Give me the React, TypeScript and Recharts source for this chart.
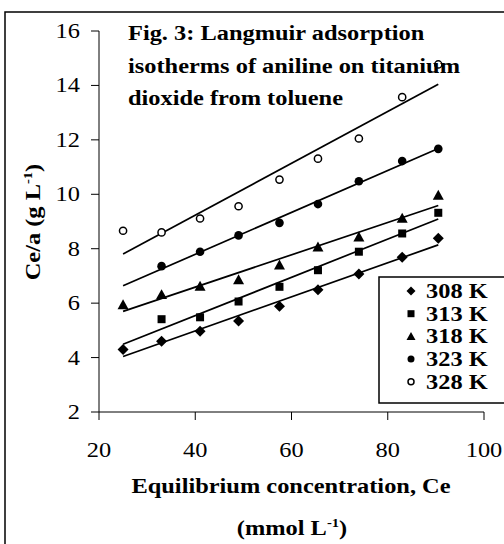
import React from "react";
import { ScatterChart, Scatter, XAxis, YAxis, ReferenceLine } from "recharts";

// equilibrium concentration Ce (mmol/L)
const ce = [25, 33, 41, 49, 57.5, 65.5, 74, 83, 90.5];
// Ce/a (g/L) for each temperature
const k308 = [4.3, 4.6, 4.97, 5.34, 5.89, 6.49, 7.07, 7.69, 8.38];
const k313 = [null, 5.41, 5.48, 6.06, 6.6, 7.21, 7.89, 8.56, 9.32];
const k318 = [5.94, 6.31, 6.62, 6.86, 7.4, 8.06, 8.43, 9.12, 9.96];
const k323 = [null, 7.36, 7.89, 8.49, 8.95, 9.64, 10.48, 11.22, 11.67];
const k328 = [8.66, 8.6, 9.11, 9.56, 10.54, 11.31, 12.05, 13.57, 14.77];

const seriesNames = ["308 K", "313 K", "318 K", "323 K", "328 K"];
const xTicks = [20, 40, 60, 80, 100];
const yTicks = [2, 4, 6, 8, 10, 12, 14, 16];
const titleLines = ["Fig. 3: Langmuir adsorption", "isotherms of aniline on titanium", "dioxide from toluene"];

const FONT = '"Liberation Serif", "Times New Roman", serif';
const WIDE = 1.22; // the original type is set noticeably wide
const X_LABEL_BASELINE = 457;

const toPoints = (vals: (number | null)[]) =>
  ce.map((x, i) => ({ x, y: vals[i] })).filter((p) => p.y != null) as { x: number; y: number }[];

// least squares line through the points, drawn over the full Ce range
const fit = (pts: { x: number; y: number }[]) => {
  const n = pts.length;
  const mx = pts.reduce((s, p) => s + p.x, 0) / n;
  const my = pts.reduce((s, p) => s + p.y, 0) / n;
  let sxy = 0;
  let sxx = 0;
  pts.forEach((p) => {
    sxy += (p.x - mx) * (p.y - my);
    sxx += (p.x - mx) * (p.x - mx);
  });
  const b = sxy / sxx;
  const x0 = Math.min(...ce);
  const x1 = Math.max(...ce);
  return [
    { x: x0, y: my + b * (x0 - mx) },
    { x: x1, y: my + b * (x1 - mx) },
  ];
};

const Diamond = ({ cx, cy, r = 5.5 }: any) => (
  <polygon points={`${cx},${cy - r} ${cx + r},${cy} ${cx},${cy + r} ${cx - r},${cy}`} fill="#000" />
);
const Square = ({ cx, cy, r = 4 }: any) => <rect x={cx - r} y={cy - r} width={r * 2} height={r * 2} fill="#000" />;
const Triangle = ({ cx, cy, r = 5.5 }: any) => (
  <polygon points={`${cx},${cy - r} ${cx + r},${cy + r * 0.8} ${cx - r},${cy + r * 0.8}`} fill="#000" />
);
const Dot = ({ cx, cy, r = 4.3 }: any) => <circle cx={cx} cy={cy} r={r} fill="#000" />;
const OpenDot = ({ cx, cy, r = 3.6 }: any) => (
  <circle cx={cx} cy={cy} r={r} fill="#fff" stroke="#000" strokeWidth={1.5} />
);

const series = [
  { name: seriesNames[0], pts: toPoints(k308), Shape: Diamond, lr: 4.5 },
  { name: seriesNames[1], pts: toPoints(k313), Shape: Square, lr: 3.5 },
  { name: seriesNames[2], pts: toPoints(k318), Shape: Triangle, lr: 4.5 },
  { name: seriesNames[3], pts: toPoints(k323), Shape: Dot, lr: 3.5 },
  { name: seriesNames[4], pts: toPoints(k328), Shape: OpenDot, lr: 3 },
];

// wide text: scaled along its own baseline
const WText = ({ x, y, rotate = 0, anchor = "start", bold = true, size = 20, children }: any) => (
  <text
    transform={`translate(${x},${y}) rotate(${rotate}) scale(${WIDE},1)`}
    textAnchor={anchor}
    fontFamily={FONT}
    fontWeight={bold ? 700 : 400}
    fontSize={size}
    fill="#000"
  >
    {children}
  </text>
);

const XTick = (props: any) => (
  <text
    x={props.x}
    y={X_LABEL_BASELINE}
    transform={`translate(${props.x},0) scale(${WIDE},1) translate(${-props.x},0)`}
    textAnchor="middle"
    fontFamily={FONT}
    fontSize={20}
    fill="#000"
  >
    {props.payload.value}
  </text>
);
const YTick = (props: any) => (
  <text
    x={props.x - 11}
    y={props.y + 7}
    transform={`translate(${props.x - 11},0) scale(${WIDE},1) translate(${11 - props.x},0)`}
    textAnchor="end"
    fontFamily={FONT}
    fontSize={20}
    fill="#000"
  >
    {props.payload.value}
  </text>
);

export default function App() {
  return (
    <div style={{ position: "absolute", left: 0, top: 0, width: 504, height: 544, overflow: "hidden", background: "#fff" }}>
      <ScatterChart width={504} height={544} margin={{ top: 31, right: 20, bottom: 0, left: 0 }}>
        <XAxis
          type="number"
          dataKey="x"
          domain={[20, 100]}
          ticks={xTicks}
          height={132}
          tickSize={8}
          tickMargin={0}
          stroke="#000"
          tick={<XTick />}
        />
        <YAxis
          type="number"
          dataKey="y"
          domain={[2, 16]}
          ticks={yTicks}
          width={99}
          tickSize={8}
          tickMargin={0}
          stroke="#000"
          tick={<YTick />}
        />
        {series.map((s) => {
          const [a, b] = fit(s.pts);
          return (
            <ReferenceLine key={"fit" + s.name} segment={[a, b]} stroke="#000" strokeWidth={1.7} ifOverflow="visible" />
          );
        })}
        {series.map((s) => (
          <Scatter
            key={s.name}
            name={s.name}
            data={s.pts}
            isAnimationActive={false}
            shape={(p: any) => <s.Shape cx={p.cx} cy={p.cy} />}
          />
        ))}
      </ScatterChart>

      <svg width={504} height={544} style={{ position: "absolute", left: 0, top: 0, pointerEvents: "none" }}>
        <rect x={5} y={12} width={520} height={560} fill="none" stroke="#000" strokeWidth={1.5} />

        {titleLines.map((t, i) => (
          <WText key={t} x={128} y={40 + i * 32.5}>
            {t}
          </WText>
        ))}

        <WText x={40} y={222} rotate={-90} anchor="middle">
          Ce/a (g L
          <tspan fontSize={12} dy={-8}>
            -1
          </tspan>
          <tspan dy={8}>)</tspan>
        </WText>

        <WText x={291} y={493} anchor="middle">
          Equilibrium concentration, Ce
        </WText>
        <WText x={292} y={535} anchor="middle">
          (mmol L
          <tspan fontSize={12} dy={-8}>
            -1
          </tspan>
          <tspan dy={8}>)</tspan>
        </WText>

        <rect x={379} y={277} width={140} height={126} fill="#fff" stroke="#000" strokeWidth={1.5} />
        {series.map((s, i) => (
          <g key={s.name}>
            <s.Shape cx={411} cy={291 + i * 22.7} r={s.lr} />
            <WText x={426} y={298 + i * 22.7}>
              {s.name}
            </WText>
          </g>
        ))}
      </svg>
    </div>
  );
}
